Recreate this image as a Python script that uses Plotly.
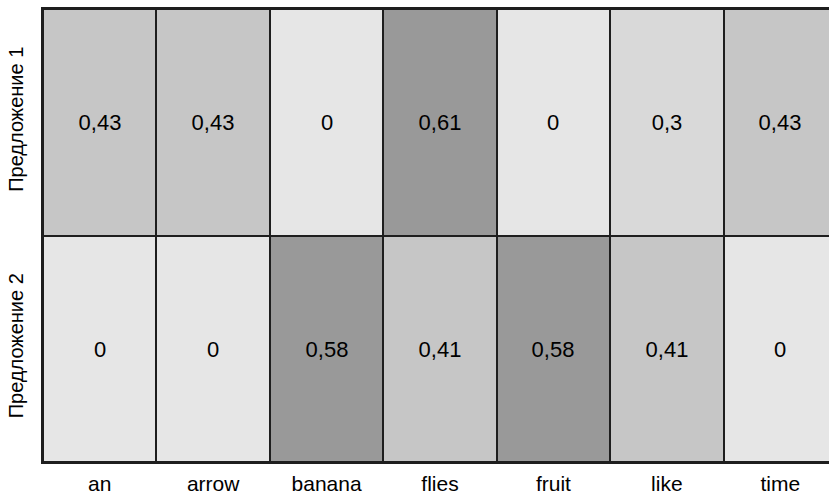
import plotly.graph_objects as go

words = ["an", "arrow", "banana", "flies", "fruit", "like", "time"]
sentences = ["Предложение 1", "Предложение 2"]
row1 = [0.43, 0.43, 0, 0.61, 0, 0.3, 0.43]
row2 = [0, 0, 0.58, 0.41, 0.58, 0.41, 0]
z = [row1, row2]

def fmt(v):
    s = ("%g" % v).replace(".", ",")
    return s

text = [[fmt(v) for v in r] for r in z]

zmax = 0.61
colorscale = [
    [0.0, "#e6e6e6"],
    [0.2 / zmax, "#e2e2e2"],
    [0.3 / zmax, "#d9d9d9"],
    [0.41 / zmax, "#c6c6c6"],
    [0.43 / zmax, "#c6c6c6"],
    [0.58 / zmax, "#999999"],
    [1.0, "#999999"],
]

fig = go.Figure(go.Heatmap(
    z=z, x=words, y=sentences, text=text, texttemplate="%{text}",
    textfont=dict(size=22, color="black", family="Liberation Sans, Arial, sans-serif"),
    colorscale=colorscale, zmin=0, zmax=zmax, showscale=False,
    xgap=2, ygap=2, hoverinfo="skip",
))

fig.update_layout(
    width=829, height=495,
    margin=dict(l=43, r=0, t=9, b=33),
    paper_bgcolor="white", plot_bgcolor="#1e1e1e",
    font=dict(family="Liberation Sans, Arial, sans-serif", size=20, color="black"),
)
fig.update_xaxes(range=[-0.5, 6.43], showgrid=False, zeroline=False,
                 showline=True, linecolor="#1e1e1e", linewidth=2, mirror=True,
                 ticks="", ticklabelstandoff=2, automargin=False,
                 tickfont=dict(size=21))
fig.update_yaxes(range=[1.5, -0.5], showgrid=False, zeroline=False,
                 showline=True, linecolor="#1e1e1e", linewidth=2, mirror=True,
                 ticks="", tickangle=-90, ticklabelstandoff=10, automargin=False,
                 tickfont=dict(size=20))

fig.write_html("out.html", config={"displayModeBar": False},
               post_script="document.body.style.margin='0';document.body.style.overflow='hidden';")
